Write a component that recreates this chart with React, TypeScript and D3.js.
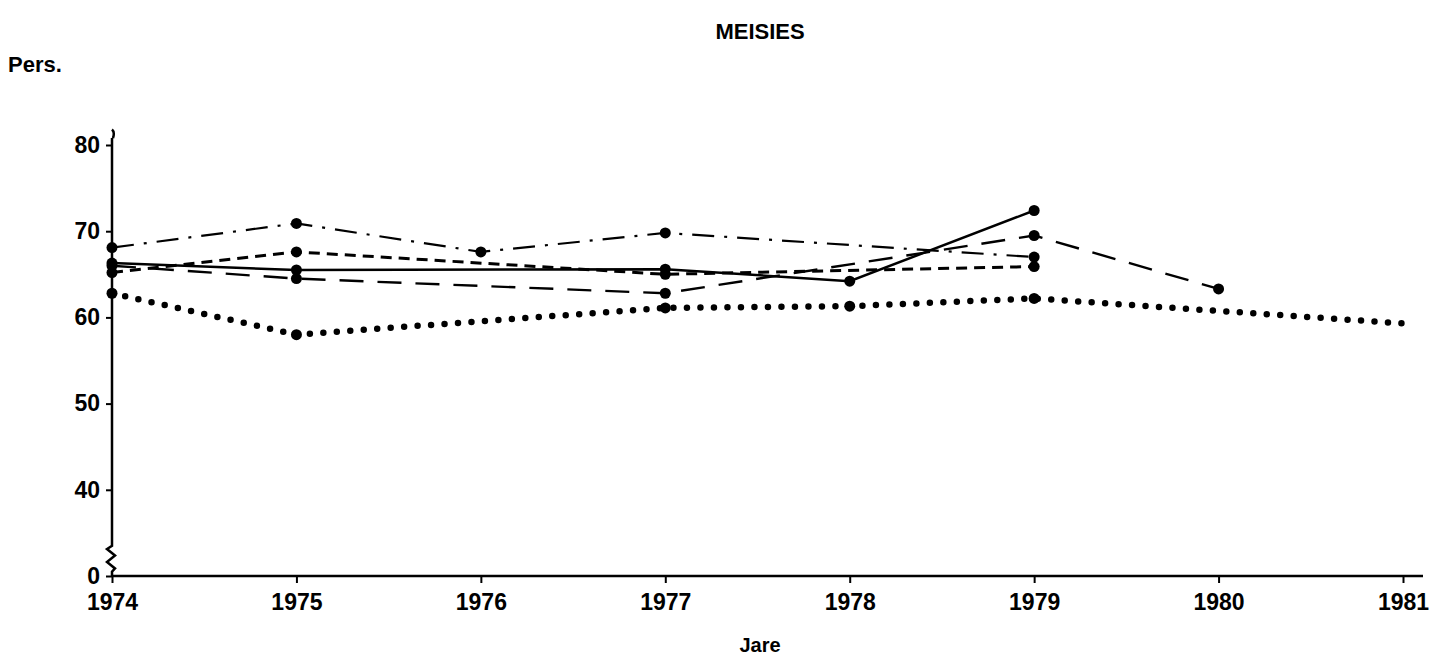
import { useEffect, useRef } from "react";
import * as d3 from "d3";

const years = [1974, 1975, 1976, 1977, 1978, 1979, 1980, 1981];
const yTicks = [30, 40, 50, 60, 70, 80]; // 30 sits at the axis break, labelled "0"

const solidYears = [1974, 1975, 1977, 1978, 1979];
const solidValues = [66.3, 65.5, 65.6, 64.2, 72.4];

const dashDotYears = [1974, 1975, 1976, 1977, 1979];
const dashDotValues = [68.1, 70.9, 67.6, 69.8, 67.0];

const longDashYears = [1974, 1975, 1977, 1979, 1980];
const longDashValues = [66.0, 64.5, 62.8, 69.5, 63.3];

const shortDashYears = [1974, 1975, 1977, 1979];
const shortDashValues = [65.2, 67.6, 65.0, 65.9];

const dottedYears = [1974, 1975, 1977, 1978, 1979, 1981];
const dottedValues = [62.8, 58.0, 61.1, 61.3, 62.2, 59.3];
const dottedMarked = [1974, 1975, 1977, 1978, 1979];

const WIDTH = 1441;
const HEIGHT = 658;
const FONT = "'Liberation Sans', Arial, Helvetica, sans-serif";

function LineChart() {
  const ref = useRef<SVGSVGElement>(null);

  useEffect(() => {
    const svg = d3.select(ref.current);
    svg.selectAll("*").remove();

    const x = d3.scaleLinear().domain([1974, 1981]).range([112, 1403]);
    const y = d3.scaleLinear().domain([30, 80]).range([576, 145]);

    // title and axis names
    svg
      .append("text")
      .attr("x", 760)
      .attr("y", 39)
      .attr("text-anchor", "middle")
      .attr("font-family", FONT)
      .attr("font-weight", "bold")
      .attr("font-size", 22)
      .text("MEISIES");

    svg
      .append("text")
      .attr("x", 8)
      .attr("y", 72)
      .attr("font-family", FONT)
      .attr("font-weight", "bold")
      .attr("font-size", 22)
      .text("Pers.");

    svg
      .append("text")
      .attr("x", 760)
      .attr("y", 652)
      .attr("text-anchor", "middle")
      .attr("font-family", FONT)
      .attr("font-weight", "bold")
      .attr("font-size", 20)
      .text("Jare");

    // x-axis
    const xAxis = svg
      .append("g")
      .attr("transform", `translate(0, ${y(30)})`)
      .call(
        d3
          .axisBottom(x)
          .tickValues(years)
          .tickFormat(d3.format("d"))
          .tickSize(7)
          .tickSizeOuter(0)
      );
    xAxis.select(".domain").remove();
    xAxis
      .append("line")
      .attr("x1", x(1974))
      .attr("x2", x(1981) + 20)
      .attr("stroke", "#000")
      .attr("stroke-width", 2.5);
    xAxis.selectAll(".tick line").attr("stroke-width", 2);
    xAxis
      .selectAll(".tick text")
      .attr("dy", "1.05em")
      .attr("font-family", FONT)
      .attr("font-weight", "bold")
      .attr("font-size", 23)
      .attr("fill", "#000");

    // y-axis
    const yAxis = svg
      .append("g")
      .attr("transform", `translate(${x(1974)}, 0)`)
      .call(
        d3
          .axisLeft(y)
          .tickValues(yTicks)
          .tickFormat((d) => (d === 30 ? "0" : String(d)))
          .tickSize(6)
          .tickSizeOuter(0)
      );
    yAxis.select(".domain").remove();
    yAxis.selectAll(".tick line").attr("stroke-width", 2);
    yAxis
      .selectAll(".tick text")
      .attr("x", -12)
      .attr("font-family", FONT)
      .attr("font-weight", "bold")
      .attr("font-size", 23)
      .attr("fill", "#000");

    // axis line with a curl at the top and a zigzag break near the bottom
    const breakTop = y(33.5);
    const breakBottom = y(30.5);
    const zig = d3.path();
    zig.moveTo(1, y(80.8));
    zig.quadraticCurveTo(3, y(81.5), 0, y(81.8));
    zig.moveTo(0, y(80.8));
    zig.lineTo(0, breakTop);
    const steps = 4;
    const h = (breakBottom - breakTop) / steps;
    for (let i = 1; i <= steps; i++) {
      zig.lineTo(i % 2 ? -5 : 3, breakTop + h * i - h / 2);
    }
    zig.lineTo(0, breakBottom);
    zig.lineTo(0, y(30));
    yAxis
      .append("path")
      .attr("d", zig.toString())
      .attr("fill", "none")
      .attr("stroke", "#000")
      .attr("stroke-width", 2.5);

    const line = d3
      .line<[number, number]>()
      .x((d) => x(d[0]))
      .y((d) => y(d[1]));

    const series = [
      { years: solidYears, values: solidValues, dash: null, width: 2.5, cap: "butt" },
      { years: dashDotYears, values: dashDotValues, dash: "22,10,3,10", width: 2.2, cap: "butt" },
      { years: longDashYears, values: longDashValues, dash: "24,14", width: 2.4, cap: "butt" },
      { years: shortDashYears, values: shortDashValues, dash: "11,7", width: 3, cap: "butt" },
      { years: dottedYears, values: dottedValues, dash: "0,13.5", width: 6.5, cap: "round" },
    ];

    for (const s of series) {
      const pts: [number, number][] = s.years.map((yr, i) => [yr, s.values[i]]);
      svg
        .append("path")
        .attr("d", line(pts))
        .attr("fill", "none")
        .attr("stroke", "#000")
        .attr("stroke-width", s.width)
        .attr("stroke-linecap", s.cap)
        .attr("stroke-dasharray", s.dash);

      const marked = s.years === dottedYears ? pts.filter((p) => dottedMarked.includes(p[0])) : pts;
      svg
        .append("g")
        .selectAll("circle")
        .data(marked)
        .enter()
        .append("circle")
        .attr("cx", (d) => x(d[0]))
        .attr("cy", (d) => y(d[1]))
        .attr("r", 5.5)
        .attr("fill", "#000");
    }
  }, []);

  return (
    <svg
      ref={ref}
      width={WIDTH}
      height={HEIGHT}
      style={{ position: "absolute", left: 0, top: 0, background: "#fff" }}
    />
  );
}

export default function App() {
  return <LineChart />;
}
